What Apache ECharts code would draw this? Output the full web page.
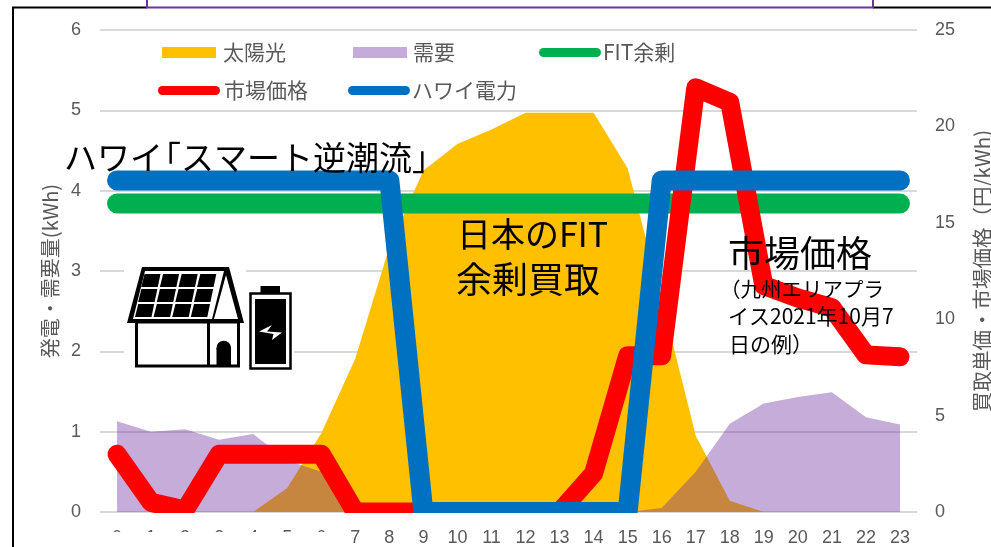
<!DOCTYPE html>
<html>
<head>
<meta charset="utf-8">
<style>html,body{margin:0;padding:0;background:#fff}#c{width:991px;height:547px}</style>
<script src="https://cdn.jsdelivr.net/npm/echarts@6/dist/echarts.min.js"></script>
</head>
<body>
<div id="c"></div>
<script>
// Hourly household balance: solar output and demand (kWh), market price and buy-back tariffs (yen/kWh)
const hours = ['0','1','2','3','4','5','6','7','8','9','10','11','12','13','14','15','16','17','18','19','20','21','22','23'];
const solar = [0,0,0,0,0,0.3,0.98,1.91,3.3,4.25,4.58,4.76,4.97,4.97,4.97,4.28,2.65,0.95,0.14,0,0,0,0,0];
const demand = [1.13,1.0,1.03,0.9,0.97,0.64,0.5,0.08,0,0,0,0,0,0,0,0,0.05,0.5,1.1,1.35,1.43,1.49,1.18,1.09];
const fitSurplus = [16,16,16,16,16,16,16,16,16,16,16,16,16,16,16,16,16,16,16,16,16,16,16,16];
const marketPrice = [3.0,0.5,0.1,3.0,3.0,3.0,3.0,0,0,0,0,0,0,0,2.0,8.1,8.1,22.0,21.25,11.75,11.1,10.6,8.15,8.05];
const hawaiiTariff = [17.2,17.2,17.2,17.2,17.2,17.2,17.2,17.2,17.2,0,0,0,0,0,0,0,17.2,17.2,17.2,17.2,17.2,17.2,17.2,17.2];
const leftTitle = '発電・需要量(kWh)';
const rightTitle = '買取単価・市場価格（円/kWh)';

const NAMES = {solar:'太陽光', demand:'需要', fit:'FIT余剰', price:'市場価格', hawaii:'ハワイ電力'};
const CJK = '"Noto Sans CJK JP","Liberation Sans",sans-serif';
const LATIN = '"Liberation Sans",sans-serif';
const GREY = '#595959';
const CAPSULE = 'path://M4.5 0H57.5A4.5 4.5 0 0 1 57.5 9H4.5A4.5 4.5 0 0 1 4.5 0Z';

function legendEntry(name, left, top, width, height, icon, color, textLeft) {
  const e = {
    data:[name], left, top, padding:0, itemWidth:width, itemHeight:height, icon,
    itemGap:0, textStyle:{fontFamily:CJK, fontSize:21, color:GREY, padding:[0,0,0,textLeft]}
  };
  if (color) e.itemStyle = {color, opacity:1};
  return e;
}

function lineSeries(name, data, color, width) {
  return {
    name, type:'line', data, yAxisIndex:1, symbol:'none', smooth:false, clip:false,
    itemStyle:{color},
    lineStyle:{color, width, cap:'round', join:'round'}
  };
}

function areaSeries(name, data, color, opacity) {
  return {
    name, type:'line', data, yAxisIndex:0, symbol:'none', clip:false,
    itemStyle:{color},
    lineStyle:{width:0},
    areaStyle:{color, opacity}
  };
}

function label(text, x, y, size) {
  return {type:'text', z:60, style:{text, x, y, fill:'#000', font:size+'px '+CJK, textVerticalAlign:'middle'}};
}
function rect(x, y, width, height, fill, z) {
  return {type:'rect', z:z||40, shape:{x,y,width,height}, style:{fill, stroke:null}};
}
function poly(points, fill, z) {
  return {type:'polygon', z:z||50, shape:{points}, style:{fill, stroke:null}};
}
function outline(x, y, width, height, lineWidth) {
  return {type:'rect', z:50, shape:{x,y,width,height}, style:{fill:'#fff', stroke:'#000', lineWidth}};
}
function stroke(points, color, lineWidth) {
  return {type:'polyline', z:70, shape:{points}, style:{fill:null, stroke:color, lineWidth}};
}

// Solar panel cells on the roof, skewed along its pitch
function roofCells() {
  const cells = [];
  const rows = [[274,287],[289,302],[304,317]];
  const skew = y => (y - 274) * 9 / 43;
  rows.forEach(([y0,y1]) => {
    for (let c = 0; c < 4; c++) {
      const xa = 144.5 + c * 18.6, xb = xa + 15;
      cells.push(poly([[xa - skew(y0), y0],[xb - skew(y0) + 1, y0],[xb - skew(y1) + 1, y1],[xa - skew(y1) - 0.5, y1]], '#000', 53));
    }
  });
  return cells;
}

const graphics = [
  // frame of the slide behind the chart
  stroke([[13,547],[13,7.5],[147,7.5]], '#000', 2),
  stroke([[873,7.5],[991,7.5]], '#000', 2),
  stroke([[147,0],[147,7.5],[873,7.5],[873,0]], '#7030A0', 2),
  // the thick lines stop just under the zero gridline, and the first hour labels are cut
  rect(100, 513, 817, 15, '#fff', 30),
  rect(100, 532, 240, 15, '#fff', 30),
  // house and battery pictogram on a white patch
  rect(124, 262, 122, 30, '#fff'),
  rect(124, 292, 170, 80, '#fff'),
  poly([[127,323],[142,267],[229,267],[244,323]], '#000', 50),
  poly([[133,319],[145,271],[224,271],[212,319]], '#fff', 51),
  poly([[214,319],[226,275],[238,319]], '#fff', 51),
  ...roofCells(),
  outline(136.5, 322, 102, 44, 3),
  rect(207, 322, 3, 44, '#000', 52),
  rect(216.5, 348, 14.5, 17, '#000', 52),
  {type:'circle', z:52, shape:{cx:223.75, cy:348, r:7.25}, style:{fill:'#000'}},
  outline(250.5, 293.5, 40, 75, 2.5),
  rect(255, 299, 31, 65, '#000', 52),
  rect(260.5, 286, 19.5, 8, '#000', 52),
  poly([[272,325],[259,331.5],[273.5,334],[272,340],[282,332.5],[267,331.5]], '#fff', 53),
  // annotations; the opening bracket sits tight against the katakana before it
  label('ハワイ', 64, 157, 33),
  label('「スマート逆潮流」', 148, 157, 33),
  label('日本のFIT', 457, 234, 34),
  label('余剰買取', 456, 279, 36),
  label('市場価格', 728, 253, 36),
  label('（九州エリアプラ', 720, 289, 20.5),
  label('イス2021年10月7', 728, 316, 21),
  label('日の例）', 729, 344, 21)
];

const chart = echarts.init(document.getElementById('c'), null, {renderer:'canvas'});
chart.setOption({
  animation:false,
  backgroundColor:'#fff',
  grid:{left:100, right:74, top:30, height:482, containLabel:false, outerBoundsMode:'none'},
  legend:[
    legendEntry(NAMES.solar, 162, 42, 54, 11, 'rect', null, 2),
    legendEntry(NAMES.demand, 353, 42, 54, 11, 'rect', '#C5ABD9', 1),
    legendEntry(NAMES.fit, 539, 42, 62, 9, CAPSULE, null, -3),
    legendEntry(NAMES.price, 158, 80, 62, 9, CAPSULE, null, -1),
    legendEntry(NAMES.hawaii, 348, 80, 62, 9, CAPSULE, null, -3)
  ],
  xAxis:{
    type:'category', data:hours,
    axisLine:{show:false}, axisTick:{show:false},
    axisLabel:{interval:0, margin:17, fontFamily:LATIN, fontSize:18, color:GREY}
  },
  yAxis:[
    {
      type:'value', min:0, max:6, interval:1, position:'left',
      name:leftTitle, nameLocation:'middle', nameRotate:90, nameGap:40,
      nameTextStyle:{fontFamily:CJK, fontSize:20, color:GREY},
      axisLine:{show:false}, axisTick:{show:false},
      axisLabel:{margin:19, fontFamily:LATIN, fontSize:18, color:GREY},
      splitLine:{lineStyle:{color:'#D9D9D9', width:2}}
    },
    {
      type:'value', min:0, max:25, interval:5, position:'right',
      name:rightTitle, nameLocation:'middle', nameRotate:90, nameGap:55,
      nameTextStyle:{fontFamily:CJK, fontSize:20.5, color:GREY},
      axisLine:{show:false}, axisTick:{show:false},
      axisLabel:{margin:18, fontFamily:LATIN, fontSize:18, color:GREY},
      splitLine:{show:false}
    }
  ],
  series:[
    areaSeries(NAMES.solar, solar, '#FFC000', 1),
    areaSeries(NAMES.demand, demand, '#7030A0', 0.4),
    lineSeries(NAMES.fit, fitSurplus, '#00B050', 20),
    lineSeries(NAMES.price, marketPrice, '#FF0000', 19),
    lineSeries(NAMES.hawaii, hawaiiTariff, '#0070C0', 20)
  ],
  graphic:{elements:graphics}
});
</script>
</body>
</html>
